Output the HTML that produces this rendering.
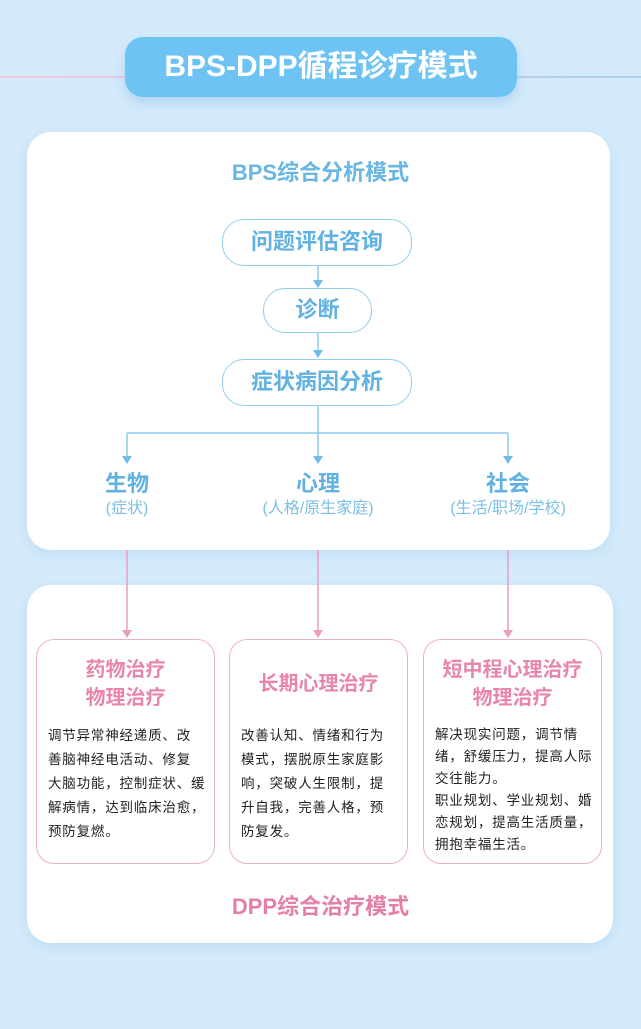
<!DOCTYPE html>
<html><head><meta charset="utf-8"><style>
*{margin:0;padding:0;box-sizing:border-box}
body{width:641px;height:1029px;background:#d5ebfb;position:relative;overflow:hidden;font-family:"Liberation Sans","Noto Sans CJK SC",sans-serif}
.a{position:absolute}
.card{position:absolute;background:#fff;border-radius:24px;box-shadow:0 4px 14px rgba(120,180,230,.25)}
.node{position:absolute;border:1.5px solid #92cff0;border-radius:22px;color:#5fb2e2;font-size:22px;font-weight:bold;text-align:center;background:#fff}
.lab{position:absolute;text-align:center;color:#5fb2e2}
.lab b{display:block;font-size:22px;line-height:28px}
.lab span{display:block;font-size:16px;line-height:22px;color:#7cc0e6}
.box{position:absolute;top:639px;width:179px;height:225px;border:1.5px solid #ebb2cb;border-radius:18px;background:#fff}
.box h3{color:#e885ad;font-size:20px;line-height:28px;text-align:center;font-weight:bold;position:absolute;left:0;right:0}
.box p{position:absolute;left:11px;top:84px;font-size:13.5px;line-height:24px;color:#222;letter-spacing:0.8px;white-space:nowrap}
</style></head><body>
<div class="a" style="left:0;top:76px;width:641px;height:2px;background:linear-gradient(90deg,#f3c6dc,#a8d2f0)"></div>
<div class="a" style="left:125px;top:37px;width:392px;height:60px;border-radius:18px;background:#6ec3f5;box-shadow:0 6px 12px rgba(90,160,220,.3);color:#fff;font-size:30px;font-weight:bold;text-align:center;line-height:60px">BPS-DPP循程诊疗模式</div>

<div class="card" style="left:27px;top:132px;width:583px;height:418px"></div>
<div class="card" style="left:27px;top:585px;width:586px;height:358px"></div>
<div class="a" style="left:0;width:641px;top:158px;text-align:center;color:#68b6e2;font-size:22px;font-weight:bold;line-height:30px">BPS综合分析模式</div>

<svg class="a" style="left:0;top:0" width="641" height="1029">
<g stroke="#8ccbef" stroke-width="1.5" fill="none">
<line x1="318" y1="266" x2="318" y2="284"/><line x1="318" y1="333" x2="318" y2="354"/>
<line x1="318" y1="406" x2="318" y2="458"/>
<line x1="127" y1="433" x2="508" y2="433"/><line x1="127" y1="433" x2="127" y2="458"/><line x1="508" y1="433" x2="508" y2="458"/>
</g>
<g fill="#6fbde8">
<polygon points="313,280 323,280 318,288"/><polygon points="313,350 323,350 318,358"/>
<polygon points="122,456 132,456 127,464"/><polygon points="313,456 323,456 318,464"/><polygon points="503,456 513,456 508,464"/>
</g>
<g stroke="#e89fbf" stroke-width="1.5">
<line x1="127" y1="550" x2="127" y2="634"/><line x1="318" y1="550" x2="318" y2="634"/><line x1="508" y1="550" x2="508" y2="634"/>
</g>
<g fill="#e89fbf">
<polygon points="122,630 132,630 127,638"/><polygon points="313,630 323,630 318,638"/><polygon points="503,630 513,630 508,638"/></g>
</svg>

<div class="node" style="left:222px;top:219px;width:190px;height:47px;line-height:44px">问题评估咨询</div>
<div class="node" style="left:263px;top:288px;width:109px;height:45px;line-height:42px">诊断</div>
<div class="node" style="left:222px;top:359px;width:190px;height:47px;line-height:44px">症状病因分析</div>

<div class="lab" style="left:57px;width:140px;top:470px"><b>生物</b><span>(症状)</span></div>
<div class="lab" style="left:228px;width:180px;top:470px"><b>心理</b><span>(人格/原生家庭)</span></div>
<div class="lab" style="left:418px;width:180px;top:470px"><b>社会</b><span>(生活/职场/学校)</span></div>

<div class="box" style="left:36px"><h3 style="top:16px">药物治疗<br>物理治疗</h3><p>调节异常神经递质、改<br>善脑神经电活动、修复<br>大脑功能，控制症状、缓<br>解病情，达到临床治愈，<br>预防复燃。</p></div>
<div class="box" style="left:229px"><h3 style="top:30px">长期心理治疗</h3><p>改善认知、情绪和行为<br>模式，摆脱原生家庭影<br>响，突破人生限制，提<br>升自我，完善人格，预<br>防复发。</p></div>
<div class="box" style="left:423px"><h3 style="top:16px">短中程心理治疗<br>物理治疗</h3><p style="line-height:22px">解决现实问题，调节情<br>绪，舒缓压力，提高人际<br>交往能力。<br>职业规划、学业规划、婚<br>恋规划，提高生活质量，<br>拥抱幸福生活。</p></div>

<div class="a" style="left:0;width:641px;top:892px;text-align:center;color:#e57fa8;font-size:22px;font-weight:bold;line-height:30px">DPP综合治疗模式</div>
</body></html>
